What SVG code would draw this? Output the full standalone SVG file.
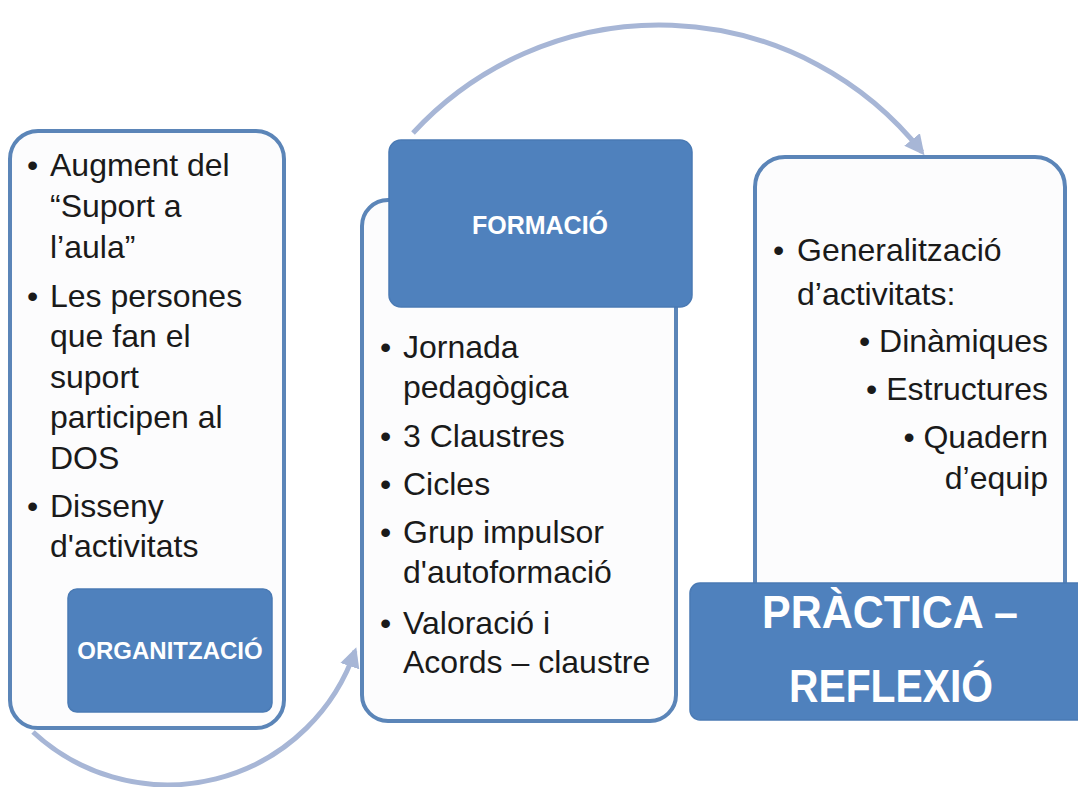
<svg xmlns="http://www.w3.org/2000/svg" width="1078" height="787" viewBox="0 0 1078 787">
<defs>
<marker id="ah" viewBox="0 0 10 10" refX="8" refY="5" markerWidth="4" markerHeight="4" orient="auto" markerUnits="strokeWidth">
<path d="M0,0 L10,5 L0,10 z" fill="#a7b6d6"/>
</marker>
<style>
.box{fill:#fcfcfd;stroke:#5b85b8;stroke-width:4}
.blue{fill:#4f81bd;stroke:#4a7ab4;stroke-width:1.5}
.t{font-family:"Liberation Sans",Arial,sans-serif;font-size:32px;fill:#1a1a1a}
.r{text-anchor:end}
.h{font-family:"Liberation Sans",Arial,sans-serif;font-weight:bold;fill:#ffffff;text-anchor:middle}
.arc{fill:none;stroke:#a7b6d6;stroke-width:5;marker-end:url(#ah)}
</style>
</defs>
<rect width="1078" height="787" fill="#ffffff"/>
<g id="connectors">
<path class="arc" d="M413,133 A335,335 0 0 1 922,152"/>
<path class="arc" d="M33,732 A198,198 0 0 0 355,651"/>
</g>
<g id="organitzacio">
<rect class="box" x="10" y="131" width="274" height="597" rx="28"/>
<text class="t">
<tspan x="27" y="176">•</tspan><tspan x="50" y="176">Augment del</tspan>
<tspan x="50" y="217">“Suport a</tspan>
<tspan x="50" y="258">l’aula”</tspan>
<tspan x="27" y="307">•</tspan><tspan x="50" y="307">Les persones</tspan>
<tspan x="50" y="347">que fan el</tspan>
<tspan x="50" y="388">suport</tspan>
<tspan x="50" y="428">participen al</tspan>
<tspan x="50" y="469">DOS</tspan>
<tspan x="27" y="517">•</tspan><tspan x="50" y="517">Disseny</tspan>
<tspan x="50" y="557">d'activitats</tspan>
</text>
<rect class="blue" x="68" y="589" width="204" height="123" rx="9"/>
<text class="h" x="170" y="659" font-size="24">ORGANITZACIÓ</text>
</g>
<g id="formacio">
<rect class="box" x="362" y="200" width="314" height="521" rx="26"/>
<rect class="blue" x="389" y="140" width="303" height="167" rx="12"/>
<text class="h" x="540" y="234" font-size="25">FORMACIÓ</text>
<text class="t">
<tspan x="380" y="358">•</tspan><tspan x="403" y="358">Jornada</tspan>
<tspan x="403" y="398">pedagògica</tspan>
<tspan x="380" y="447">•</tspan><tspan x="403" y="447">3 Claustres</tspan>
<tspan x="380" y="495">•</tspan><tspan x="403" y="495">Cicles</tspan>
<tspan x="380" y="543">•</tspan><tspan x="403" y="543">Grup impulsor</tspan>
<tspan x="403" y="583">d'autoformació</tspan>
<tspan x="380" y="634">•</tspan><tspan x="403" y="634">Valoració i</tspan>
<tspan x="403" y="673">Acords – claustre</tspan>
</text>
</g>
<g id="practica">
<rect class="box" x="755" y="157" width="310" height="470" rx="30"/>
<text class="t">
<tspan x="773" y="261">•</tspan><tspan x="797" y="261">Generalització</tspan>
<tspan x="797" y="305">d’activitats:</tspan>
</text>
<text class="t r" x="1048" y="352">• Dinàmiques</text>
<text class="t r" x="1048" y="400">• Estructures</text>
<text class="t r" x="1048" y="448">• Quadern</text>
<text class="t r" x="1048" y="489">d’equip</text>
<rect class="blue" x="690" y="583" width="400" height="137" rx="10"/>
<text class="h" x="890" y="628" font-size="46" textLength="256" lengthAdjust="spacingAndGlyphs">PRÀCTICA –</text>
<text class="h" x="891" y="702" font-size="46" textLength="204" lengthAdjust="spacingAndGlyphs">REFLEXIÓ</text>
</g>
</svg>
